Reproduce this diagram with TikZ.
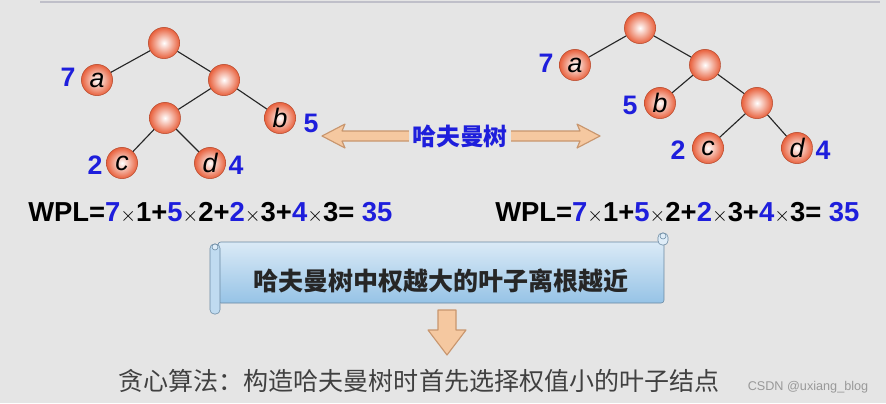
\documentclass[tikz,border=0pt]{standalone}
\usepackage{fontspec}
\setmainfont{Liberation Sans}
\newfontfamily\cjk{Noto Sans CJK SC}
\definecolor{wblue}{RGB}{30,30,220}
\definecolor{ballred}{RGB}{232,96,60}
\definecolor{arrowfill}{RGB}{245,200,160}
\definecolor{arrowline}{RGB}{200,150,110}
\definecolor{scrollblue}{RGB}{150,195,230}
\newcommand{\tm}{{\fontsize{14}{14}\selectfont$\times$}}
\tikzset{
  knot/.style={circle,minimum size=0.78cm,inner sep=0pt,draw=ballred!80!black,thin,
    inner color=white,outer color=ballred,font=\fontsize{19}{19}\selectfont\itshape},
  wlabel/.style={text=wblue,font=\fontsize{19}{19}\selectfont\bfseries},
  edge/.style={thick,black!85},
  fat/.style={fill=arrowfill,draw=arrowline,thick,line join=round}
}
\begin{document}
\begin{tikzpicture}[x=0.025cm,y=-0.025cm]
   \useasboundingbox (0,0) rectangle (886,403);
   \fill[black!10] (0,0) rectangle (886,403);
   \draw[blue!15!black!25,thick] (40,2) -- (880,2);
   %arbol izquierdo
   \node[knot] (l0) at (164,43) {};
   \node[knot] (la) at (97,80) {a};
   \node[knot] (l1) at (224,80) {};
   \node[knot] (l2) at (165,118) {};
   \node[knot] (lb) at (280,118) {b};
   \node[knot] (lc) at (122,163) {c};
   \node[knot] (ld) at (210,163) {d};
   \draw[edge] (l0) -- (la); \draw[edge] (l0) -- (l1);
   \draw[edge] (l1) -- (l2); \draw[edge] (l1) -- (lb);
   \draw[edge] (l2) -- (lc); \draw[edge] (l2) -- (ld);
   \node[wlabel] (lwa) at (68,77) {7};
   \node[wlabel] (lwb) at (311,123) {5};
   \node[wlabel] (lwc) at (95,165) {2};
   \node[wlabel] (lwd) at (236,165) {4};
   %arbol derecho
   \node[knot] (r0) at (640,28) {};
   \node[knot] (ra) at (575,65) {a};
   \node[knot] (r1) at (705,65) {};
   \node[knot] (rb) at (660,103) {b};
   \node[knot] (r2) at (757,103) {};
   \node[knot] (rc) at (708,148) {c};
   \node[knot] (rd) at (797,148) {d};
   \draw[edge] (r0) -- (ra); \draw[edge] (r0) -- (r1);
   \draw[edge] (r1) -- (rb); \draw[edge] (r1) -- (r2);
   \draw[edge] (r2) -- (rc); \draw[edge] (r2) -- (rd);
   \node[wlabel] (rwa) at (546,63) {7};
   \node[wlabel] (rwb) at (630,105) {5};
   \node[wlabel] (rwc) at (678,150) {2};
   \node[wlabel] (rwd) at (823,150) {4};
   %flecha doble
   \draw[fat] (322,136) -- (345,124) -- (342,131) -- (580,131) -- (577,124) -- (600,136)
     -- (577,148) -- (580,141) -- (342,141) -- (345,148) -- cycle;
   \node[fill=black!10,inner sep=2pt,text=wblue,font=\cjk\fontsize{17}{17}\selectfont\bfseries] (huff) at (460,136) {哈夫曼树};
   %WPL
   \node[anchor=west,inner sep=0pt,font=\fontsize{19.5}{19.5}\selectfont\bfseries] (wl) at (28,213)
     {WPL=\textcolor{wblue}{7}\tm1+\textcolor{wblue}{5}\tm2+\textcolor{wblue}{2}\tm3+\textcolor{wblue}{4}\tm3= \textcolor{wblue}{35}};
   \node[anchor=west,inner sep=0pt,font=\fontsize{19.5}{19.5}\selectfont\bfseries] (wr) at (495,213)
     {WPL=\textcolor{wblue}{7}\tm1+\textcolor{wblue}{5}\tm2+\textcolor{wblue}{2}\tm3+\textcolor{wblue}{4}\tm3= \textcolor{wblue}{35}};
   %pergamino
   \shade[top color=scrollblue!35,bottom color=scrollblue,draw=scrollblue!70!black,rounded corners=2]
     (218,242) rectangle (664,303);
   \draw[scrollblue!70!black,fill=scrollblue!60,rounded corners=3] (210,244) rectangle (220,314);
   \draw[scrollblue!70!black,fill=scrollblue!30,rounded corners=3] (658,233) rectangle (668,245);
   \draw[scrollblue!70!black,fill=scrollblue!30] (215,247) circle (3);
   \draw[scrollblue!70!black,fill=scrollblue!30] (663,236) circle (3);
   \node[font=\cjk\fontsize{17.8}{18}\selectfont\bfseries,text=black!85] (rule) at (441,281) {哈夫曼树中权越大的叶子离根越近};
   %flecha abajo
   \draw[fat] (438,310) -- (456,310) -- (456,330) -- (466,330) -- (447,355) -- (428,330)
     -- (438,330) -- cycle;
   \node[font=\cjk\fontsize{17.8}{18}\selectfont,text=black!75] (greedy) at (419,381) {贪心算法：构造哈夫曼树时首先选择权值小的叶子结点};
   \node[font=\fontsize{9}{9}\selectfont,text=black!40] (mark) at (808,387) {CSDN @uxiang\_blog};
\end{tikzpicture}
\end{document}
